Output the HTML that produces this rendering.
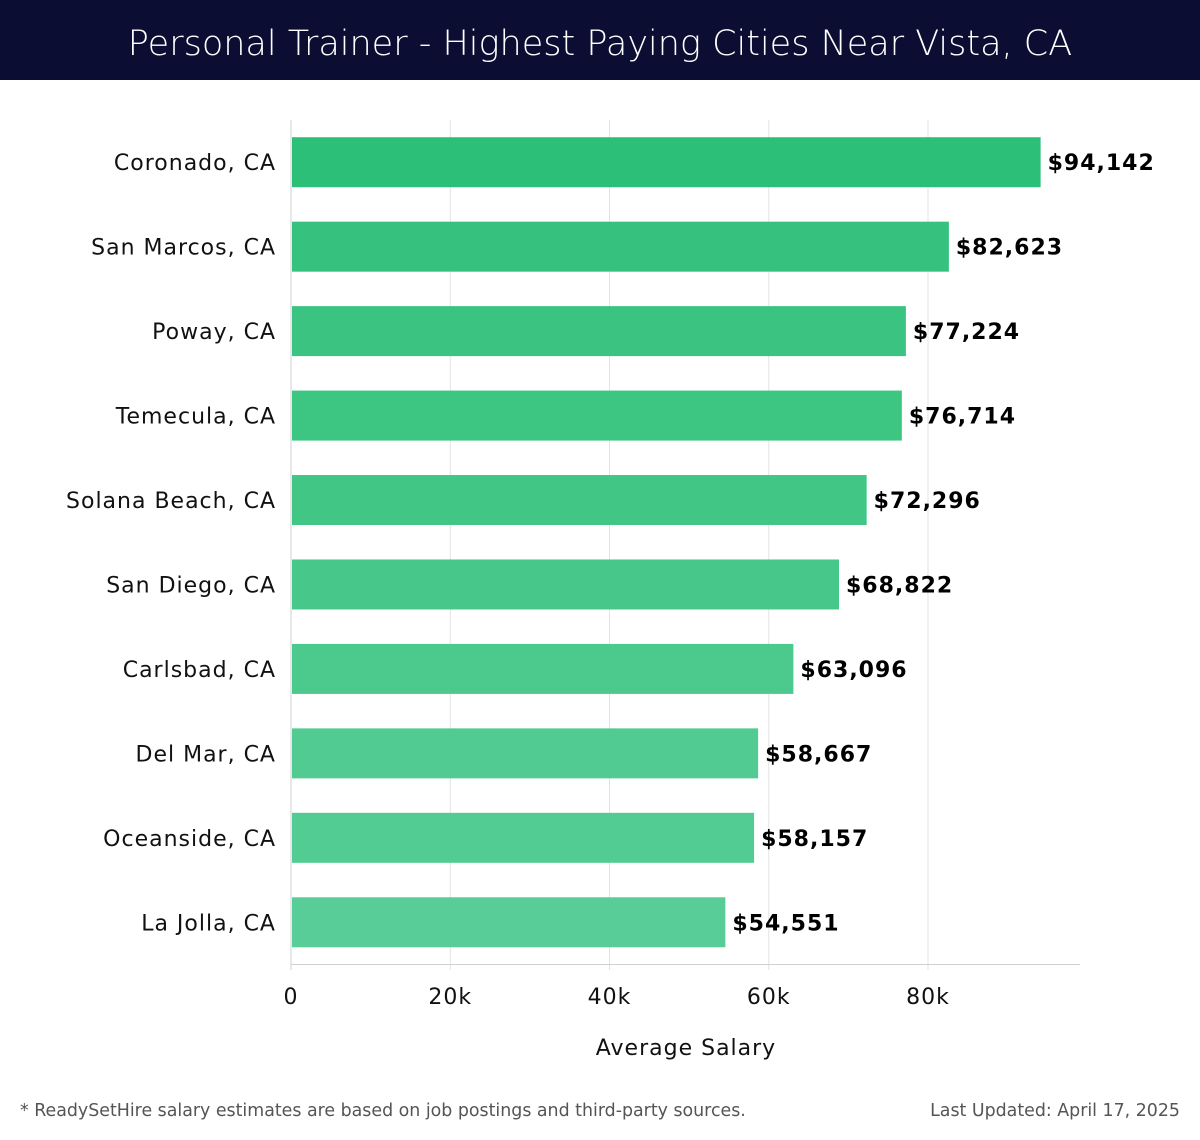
<!DOCTYPE html>
<html><head><meta charset="utf-8"><style>
body{margin:0;width:1200px;height:1140px;background:#fff;overflow:hidden;font-family:"DejaVu Sans","Liberation Sans",sans-serif}
#title{position:absolute;left:0;top:0;width:1200px;height:80px;background:#0b0d33;color:#fff;font-size:35px;text-align:center;line-height:88px;font-family:"DejaVu Sans","Liberation Sans",sans-serif;font-weight:300}
.foot{position:absolute;top:1101px;font-size:17.4px;color:#555}
svg text{letter-spacing:1px}
</style></head><body>
<div id="title">Personal Trainer - Highest Paying Cities Near Vista, CA</div>
<svg id="chart" width="1200" height="1140" style="position:absolute;left:0;top:0"></svg>
<div class="foot" style="left:20px">* ReadySetHire salary estimates are based on job postings and third-party sources.</div>
<div class="foot" style="right:20px">Last Updated: April 17, 2025</div>
<script>
const categories=["Coronado, CA","San Marcos, CA","Poway, CA","Temecula, CA","Solana Beach, CA","San Diego, CA","Carlsbad, CA","Del Mar, CA","Oceanside, CA","La Jolla, CA"];
const values=[94142,82623,77224,76714,72296,68822,63096,58667,58157,54551];
const ticks=[0,20000,40000,60000,80000];
const tickLabels=["0","20k","40k","60k","80k"];
const colors=["#2bbf77","#36c27e","#3bc481","#3dc582","#42c686","#47c88a","#4cca8d","#52cb92","#53cc93","#58cd97"];
const svg=document.getElementById('chart');const NS="http://www.w3.org/2000/svg";
const x0=291,xScale=v=>x0+v*(637/80000);
const plotTop=120,band=84.45,barH=50;
const yc=i=>plotTop+band*(i+0.5);
function mk(t,a,txt){const e=document.createElementNS(NS,t);for(const k in a)e.setAttribute(k,a[k]);if(txt!=null)e.textContent=txt;svg.appendChild(e);return e;}
ticks.forEach((t,i)=>{
 const g=mk('line',{x1:xScale(t),x2:xScale(t),y1:plotTop,y2:970,stroke:i?'#e3e3e3':'#d0d0d0','stroke-width':1});
 
 
 const l=mk('text',{x:xScale(t),y:1004,'text-anchor':'middle','font-size':22,fill:'#111'},tickLabels[i]);
 
 
});
const ax=mk('line',{x1:x0,x2:1080,y1:964.5,y2:964.5,stroke:'#d0d0d0','stroke-width':1});


const at=mk('text',{x:686,y:1055,'text-anchor':'middle','font-size':22,fill:'#111'},'Average Salary');


values.forEach((v,i)=>{
 const y=yc(i);
 const r=mk('rect',{x:x0+1,y:y-barH/2,width:xScale(v)-x0-1,height:barH,fill:colors[i]});
 
 
 const c=mk('text',{x:276,y:y+8,'text-anchor':'end','font-size':22,fill:'#111'},categories[i]);
 
 
 const t=mk('text',{x:xScale(v)+7,y:y+8,'font-size':22,'font-weight':'bold',fill:'#000'},'$'+v.toLocaleString('en-US'));
 
 
});
</script>
</body></html>
